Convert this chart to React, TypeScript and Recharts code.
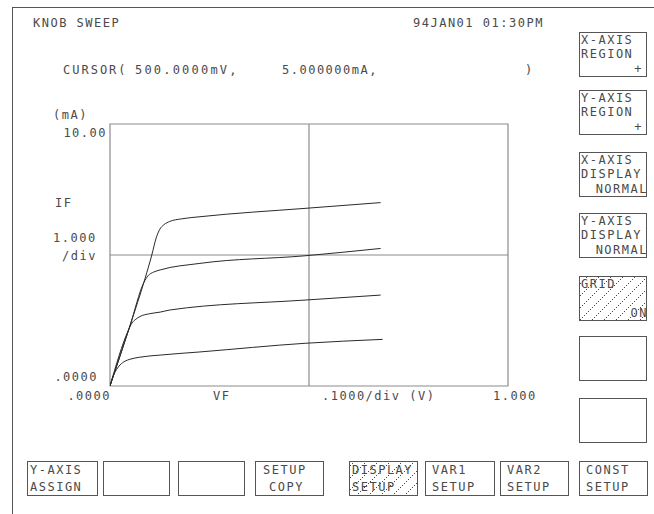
import { Line, LineChart, ReferenceArea, ReferenceLine, XAxis, YAxis } from "recharts";

// VF (V) / IF (mA) readings, one pair of arrays per trace
const trace1Vf = [0, 0.008, 0.016, 0.025, 0.038, 0.05, 0.075, 0.126, 0.226, 0.49, 0.685];
const trace1If = [0, 0.38, 0.62, 0.8, 0.95, 1.02, 1.1, 1.18, 1.3, 1.63, 1.78];

const trace2Vf = [0, 0.046, 0.055, 0.065, 0.075, 0.1, 0.126, 0.15, 0.49, 0.68];
const trace2If = [0, 2.12, 2.4, 2.55, 2.65, 2.76, 2.82, 2.9, 3.28, 3.47];

const trace3Vf = [0, 0.05, 0.085, 0.095, 0.11, 0.126, 0.226, 0.49, 0.68];
const trace3If = [0, 2.29, 3.95, 4.2, 4.35, 4.43, 4.68, 4.97, 5.25];

const trace4Vf = [0, 0.05, 0.088, 0.105, 0.116, 0.125, 0.135, 0.15, 0.18, 0.226, 0.49, 0.68];
const trace4If = [0, 2.29, 4.1, 5.0, 5.65, 5.98, 6.15, 6.28, 6.38, 6.46, 6.78, 7.0];

const xDomain = [0, 1];
const yDomain = [0, 10];
const cursorVf = 0.5;
const cursorIf = 5;

const sideKeys = [
  ["X-AXIS", "REGION", "+"],
  ["Y-AXIS", "REGION", "+"],
  ["X-AXIS", "DISPLAY", "NORMAL"],
  ["Y-AXIS", "DISPLAY", "NORMAL"],
  ["GRID", "", "ON"],
  ["", "", ""],
  ["", "", ""],
];
const bottomKeys = [
  ["Y-AXIS", "ASSIGN"],
  ["", ""],
  ["", ""],
  ["SETUP", "COPY"],
  ["DISPLAY", "SETUP"],
  ["VAR1", "SETUP"],
  ["VAR2", "SETUP"],
  ["CONST", "SETUP"],
];

const toData = (vf: number[], iF: number[]) => vf.map((v, i) => ({ vf: v, if: iF[i] }));
const traces = [
  toData(trace1Vf, trace1If),
  toData(trace2Vf, trace2If),
  toData(trace3Vf, trace3If),
  toData(trace4Vf, trace4If),
];

const INK = "#4a4a4a";
const font = {
  fontFamily: "'DejaVu Sans Mono', monospace",
  fontSize: 12,
  letterSpacing: 1.5,
  fill: INK,
};

// y is the visual centre of the capitals
function T({ x, y, children, end, ls }: { x: number; y: number; children: string; end?: boolean; ls?: number }) {
  return (
    <text
      x={x}
      y={y + 4.4}
      textAnchor={end ? "end" : "start"}
      style={{ ...font, letterSpacing: ls ?? font.letterSpacing }}
    >
      {children}
    </text>
  );
}

const sideTops = [32, 90, 152, 213, 276, 336, 398];
const bottomLefts = [27, 103, 178, 255, 349, 425, 500, 579];
const bottomRights = [97, 169, 244, 323, 417, 494, 568, 647];
const hatchDots = [0, 2, 4, 6, 8, 10];

export default function App() {
  return (
    <div style={{ position: "absolute", left: 0, top: 0, width: 654, height: 514, background: "#fff" }}>
      <LineChart
        width={654}
        height={514}
        margin={{ top: 124, right: 146, bottom: 128, left: 110 }}
        style={{ position: "absolute", left: 0, top: 0 }}
      >
        <XAxis type="number" dataKey="vf" domain={xDomain} hide allowDataOverflow />
        <YAxis type="number" dataKey="if" domain={yDomain} hide allowDataOverflow />
        <ReferenceArea x1={0} x2={1} y1={0} y2={10} fill="none" stroke="#8c8c8c" strokeWidth={1.2} />
        <ReferenceLine x={cursorVf} stroke="#8c8c8c" strokeWidth={1.2} />
        <ReferenceLine y={cursorIf} stroke="#8c8c8c" strokeWidth={1.2} />
        {traces.map((d, i) => (
          <Line
            key={i}
            data={d}
            dataKey="if"
            type="monotoneX"
            dot={false}
            stroke="#2a2a2a"
            strokeWidth={1}
            isAnimationActive={false}
          />
        ))}
      </LineChart>

      <svg width={654} height={514} style={{ position: "absolute", left: 0, top: 0, pointerEvents: "none" }}>
        <defs>
          <pattern id="hatch" width={12} height={12} patternUnits="userSpaceOnUse">
            {hatchDots.map((d) => (
              <rect key={d} x={d} y={11 - d} width={1} height={1} fill={INK} />
            ))}
          </pattern>
        </defs>
        {/* screen frame */}
        <line x1={12} y1={7.5} x2={654} y2={7.5} stroke="#555" />
        <line x1={12.5} y1={7} x2={12.5} y2={514} stroke="#555" />

        <T x={33} y={23}>KNOB SWEEP</T>
        <T x={413} y={23}>94JAN01 01:30PM</T>
        <T x={63} y={70} ls={2}>CURSOR(</T>
        <T x={135} y={70} ls={2.2}>500.0000mV,</T>
        <T x={282} y={70}>5.000000mA,</T>
        <T x={525} y={70}>)</T>

        <T x={53} y={115}>(mA)</T>
        <T x={107} y={133} end>10.00</T>
        <T x={55} y={203}>IF</T>
        <T x={53} y={238}>1.000</T>
        <T x={62} y={256}>/div</T>
        <T x={98} y={377} end>.0000</T>

        <T x={111} y={396} end>.0000</T>
        <T x={213} y={396}>VF</T>
        <T x={322} y={396}>.1000/div (V)</T>
        <T x={493} y={396}>1.000</T>

        {sideKeys.map((k, i) => {
          const top = sideTops[i];
          const hatched = k[0] === "GRID";
          return (
            <g key={i}>
              <rect
                x={579.5}
                y={top + 0.5}
                width={67}
                height={44}
                fill={hatched ? "url(#hatch)" : "none"}
                stroke="#555"
              />
              {k[0] && <T x={581} y={top + 8}>{k[0]}</T>}
              {k[1] && <T x={581} y={top + 22}>{k[1]}</T>}
              {k[2] && (
                <T x={k[2] === "+" ? 643 : 648} y={top + 37} end>
                  {k[2]}
                </T>
              )}
            </g>
          );
        })}

        {bottomKeys.map((k, i) => {
          const l = bottomLefts[i];
          const r = bottomRights[i];
          const hatched = k[0] === "DISPLAY";
          const tx = k[0] === "SETUP" ? l + 8 : k[0] === "Y-AXIS" || hatched ? l + 3 : l + 7;
          return (
            <g key={i}>
              <rect
                x={l + 0.5}
                y={461.5}
                width={r - l}
                height={34}
                fill={hatched ? "url(#hatch)" : "none"}
                stroke="#555"
              />
              {k[0] && <T x={tx} y={470}>{k[0]}</T>}
              {k[1] && <T x={k[1] === "COPY" ? tx + 6 : tx} y={487}>{k[1]}</T>}
            </g>
          );
        })}
      </svg>
    </div>
  );
}
